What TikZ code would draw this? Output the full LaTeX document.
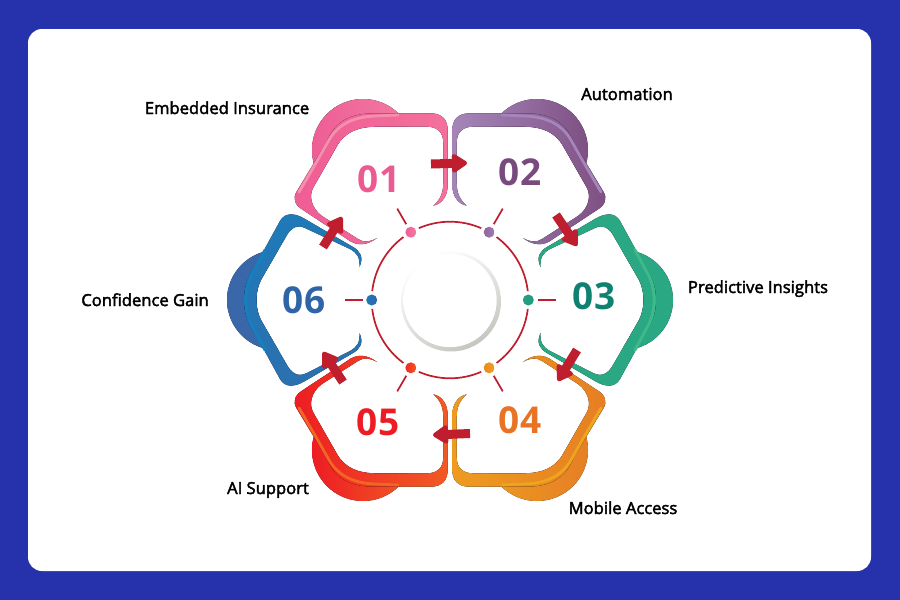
\documentclass[tikz,border=0pt]{standalone}
\usepackage{fontspec}
\usetikzlibrary{arrows.meta,calc}
\newfontfamily\labfont[FakeBold=2.5]{Open Sans}
\newfontfamily\numfont{Open Sans}[BoldFont={Open Sans Bold}]
\newcommand\dc[1]{\definecolor{HTML#1}{HTML}{#1}}
\dc{3A66AA}\dc{1F7AB8}\dc{2F66A9}\dc{3367A9}\dc{2A70B0}\dc{1680BE}\dc{2AA884}\dc{128873}\dc{3DB98A}
\dc{EE5E96}\dc{F27CA2}\dc{EF5D94}\dc{F4709B}\dc{F48FAE}\dc{9F7CB1}\dc{7E5083}
\dc{A585B9}\dc{7F4F82}\dc{A585BB}\dc{EC9A22}\dc{E67F24}\dc{EE9B20}\dc{E67E22}
\dc{EDA41F}\dc{ED1C24}\dc{F15A24}\dc{F26522}\dc{FFFFFF}\dc{C6C6C1}\dc{E6E6E3}
\dc{2A9D7F}\dc{1F9C80}\dc{E98A1F}\dc{F0A020}\dc{EF2A22}\dc{F05A24}\dc{1E79B8}
\dc{8E64A0}
\definecolor{bgblue}{HTML}{2632AB}
\definecolor{ringred}{HTML}{BE1E2D}
\definecolor{nPink}{HTML}{EC5A92}
\definecolor{nPurple}{HTML}{784A7E}
\definecolor{nGreen}{HTML}{0F8170}
\definecolor{nOrange}{HTML}{E87325}
\definecolor{nRed}{HTML}{ED1C24}
\definecolor{nBlue}{HTML}{2F65A8}
\pgfdeclareradialshading{sheen}{\pgfpoint{0bp}{0bp}}{color(0bp)=(white);color(34.8bp)=(white);color(45.5bp)=(HTMLE6E6E3);color(50bp)=(HTMLE6E6E3)}
\tikzset{
  lab/.style={font=\labfont\fontsize{16.6}{18}\selectfont,text=black,inner sep=0pt,anchor=base},
  num/.style={font=\numfont\bfseries\fontsize{37}{40}\selectfont,inner sep=0pt},
  flow/.style={draw=ringred,line width=9pt,-{Triangle[length=17pt,width=21pt,round]}},
  ringseg/.style={draw=ringred,line width=1.7pt},
  dot/.style={circle,minimum size=11pt,inner sep=0pt},
}
% upper-left petal family (pink, purple, orange, red are mirror images)
\newcommand\TopPetal[3]{%
  \fill[#1] (363,150) circle (51);
  \fill[white] (433.3,205.7) .. controls (440,200) and (443.3,193) .. (443.3,183) -- (443.3,143) .. controls (443.3,132) and (437,126.7) .. (427,126.7) -- (377,126.7) .. controls (358,126.7) and (345,132) .. (337,146) -- (313,188) .. controls (309,196) and (311,208) .. (322,216) -- (358,239) .. controls (364,243) and (370,242) .. (377,238) -- cycle;
  \fill[#2] (377,238) .. controls (368,245) and (357,247) .. (347,239) -- (303,210) .. controls (295,205) and (292,199) .. (297,191) -- (326,143) .. controls (334,123) and (348,112.5) .. (378,113.3) -- (431,113.3) .. controls (442,113.3) and (447.7,120) .. (447.7,130) -- (447.7,185) .. controls (447.7,196) and (442,204) .. (433.3,205.7) .. controls (440,200) and (443.3,193) .. (443.3,183) -- (443.3,143) .. controls (443.3,132) and (437,126.7) .. (427,126.7) -- (377,126.7) .. controls (358,126.7) and (345,132) .. (337,146) -- (313,188) .. controls (309,196) and (311,208) .. (322,216) -- (358,239) .. controls (364,243) and (370,242) .. (377,238) -- cycle;
  \draw[#3,line width=2.8pt,line cap=round] (299,192) -- (316,163) -- (329,140) .. controls (338,125) and (352,117) .. (375,116) -- (398,115);
}
% side petal family (blue, green)
\newcommand\SidePetal[3]{%
  \fill[#1] (277,300) circle (50);
  \fill[white] (359.5,333) .. controls (360,343) and (357,347) .. (350,351) -- (307,373) .. controls (297,378) and (291,372) .. (287,365) -- (261,320) .. controls (255,308) and (255,292) .. (261,280) -- (287,235) .. controls (291,228) and (297,224) .. (305,228) -- (350,249) .. controls (357,253) and (360,257) .. (359.5,267) -- cycle;
  \fill[#2] (359.5,267) .. controls (364,257) and (360,251) .. (353,247) -- (305,219) .. controls (295,213) and (285,212) .. (280,221) -- (263,252) -- (250,275) .. controls (242,290) and (242,310) .. (250,325) -- (263,348) -- (280,379) .. controls (285,388) and (295,387) .. (305,381) -- (353,353) .. controls (360,349) and (364,343) .. (359.5,333) .. controls (360,343) and (357,347) .. (350,351) -- (307,373) .. controls (297,378) and (291,372) .. (287,365) -- (261,320) .. controls (255,308) and (255,292) .. (261,280) -- (287,235) .. controls (291,228) and (297,224) .. (305,228) -- (350,249) .. controls (357,253) and (360,257) .. (359.5,267) -- cycle;
  \draw[#3,line width=3pt,line cap=round] (265,250) -- (251.5,275) .. controls (244,290) and (244,310) .. (251.5,325) -- (265,350);
}
\begin{document}
\begin{tikzpicture}[x=1pt,y=-1pt]
\useasboundingbox (0,0) rectangle (900,600);
\fill[bgblue] (0,0) rectangle (900,600);
\fill[white,rounded corners=14pt] (28,29) rectangle (871,571);

% petals
\SidePetal{left color=HTML3A66AA,right color=HTML3A66AA}{top color=HTML1F7AB8,middle color=HTML3367A9,bottom color=HTML2A70B0}{HTML1680BE}
\begin{scope}[cm={-1,0,0,1,(900,0)}]
\SidePetal{left color=HTML2AA884,right color=HTML2AA884}{top color=HTML2AA884,middle color=HTML128873,bottom color=HTML2AA884}{HTML3DB98A}
\end{scope}
\TopPetal{left color=HTMLEE5E96,right color=HTMLF27CA2}{left color=HTMLEF5D94,right color=HTMLF4709B}{HTMLF48FAE}
\begin{scope}[cm={-1,0,0,1,(900,0)}]
\TopPetal{left color=HTML9F7CB1,right color=HTML7E5083}{left color=HTMLA585B9,right color=HTML7F4F82}{HTMLA585BB}
\end{scope}
\begin{scope}[cm={-1,0,0,-1,(900,600)}]
\TopPetal{left color=HTMLEC9A22,right color=HTMLE67F24}{left color=HTMLEE9B20,right color=HTMLE67E22}{HTMLEDA41F}
\end{scope}
\begin{scope}[cm={1,0,0,-1,(0,600)}]
\TopPetal{left color=HTMLED1C24,right color=HTMLF15A24}{left color=HTMLED1C24,right color=HTMLF15A24}{HTMLF26522}
\end{scope}

% centre disc
\coordinate (hub) at (450,300);
\shade[top color=HTMLFFFFFF,bottom color=HTMLC6C6C1,shading angle=30] (451,301.5) circle (50);
\fill[white] (450,300.5) circle (46.5);
\begin{scope}
\clip (450,300.5) circle (46.5);
\shade[shading=sheen] (435,310) circle (66);
\end{scope}

% ring
\foreach \a in {0,60,...,300}{
  \draw[ringseg] ($(hub)+(\a+6.5:78.3)$) arc[start angle=\a+6.5,end angle=\a+53.5,radius=78.3];
}

% ticks
\foreach \a/\n in {0/t3,60/t4,120/t5,180/t6,240/t1,300/t2}{
  \coordinate (\n a) at ($(hub)+(\a:87.5)$);
  \coordinate (\n b) at ($(hub)+(\a:105.5)$);
  \draw[ringseg] (\n a) -- (\n b);
}

% dots
\node[dot,left color=HTML2A9D7F,right color=HTML1F9C80] (d3) at ($(hub)+(0:78.3)$) {};
\node[dot,left color=HTMLE98A1F,right color=HTMLF0A020] (d4) at ($(hub)+(60:78.3)$) {};
\node[dot,left color=HTMLEF2A22,right color=HTMLF05A24] (d5) at ($(hub)+(120:78.3)$) {};
\node[dot,left color=HTML1E79B8,right color=HTML2F66A9] (d6) at ($(hub)+(180:78.3)$) {};
\node[dot,left color=HTMLEE5E96,right color=HTMLF27CA2] (d1) at ($(hub)+(240:78.3)$) {};
\node[dot,left color=HTML8E64A0,right color=HTML9F7CB1] (d2) at ($(hub)+(300:78.3)$) {};

% arrows
\coordinate (a1s) at (431,164); \coordinate (a1e) at (467,163);
\coordinate (a2s) at (556,215); \coordinate (a2e) at (577,246);
\coordinate (a3s) at (577,350); \coordinate (a3e) at (558,381);
\coordinate (a4s) at (470,433.5); \coordinate (a4e) at (433,435);
\coordinate (a5s) at (343,382); \coordinate (a5e) at (323,352);
\coordinate (a6s) at (323,247); \coordinate (a6e) at (342,217);
\draw[flow] (a1s) -- (a1e);
\draw[flow] (a2s) -- (a2e);
\draw[flow] (a3s) -- (a3e);
\draw[flow] (a4s) -- (a4e);
\draw[flow] (a5s) -- (a5e);
\draw[flow] (a6s) -- (a6e);

% numbers
\node[num,text=nPink] (n1) at (379,179.5) {01};
\node[num,text=nPurple] (n2) at (520,172.5) {02};
\node[num,text=nGreen] (n3) at (594,296) {03};
\node[num,text=nOrange] (n4) at (520,420) {04};
\node[num,text=nRed] (n5) at (378,422) {05};
\node[num,text=nBlue] (n6) at (304,300) {06};

% labels
\node[lab] (l1) at (227,114) {Embedded Insurance};
\node[lab] (l2) at (627,100) {Automation};
\node[lab] (l3) at (758,293) {Predictive Insights};
\node[lab] (l4) at (623,514) {Mobile Access};
\node[lab] (l5) at (268,494) {AI Support};
\node[lab] (l6) at (145,306) {Confidence Gain};
\end{tikzpicture}
\end{document}
